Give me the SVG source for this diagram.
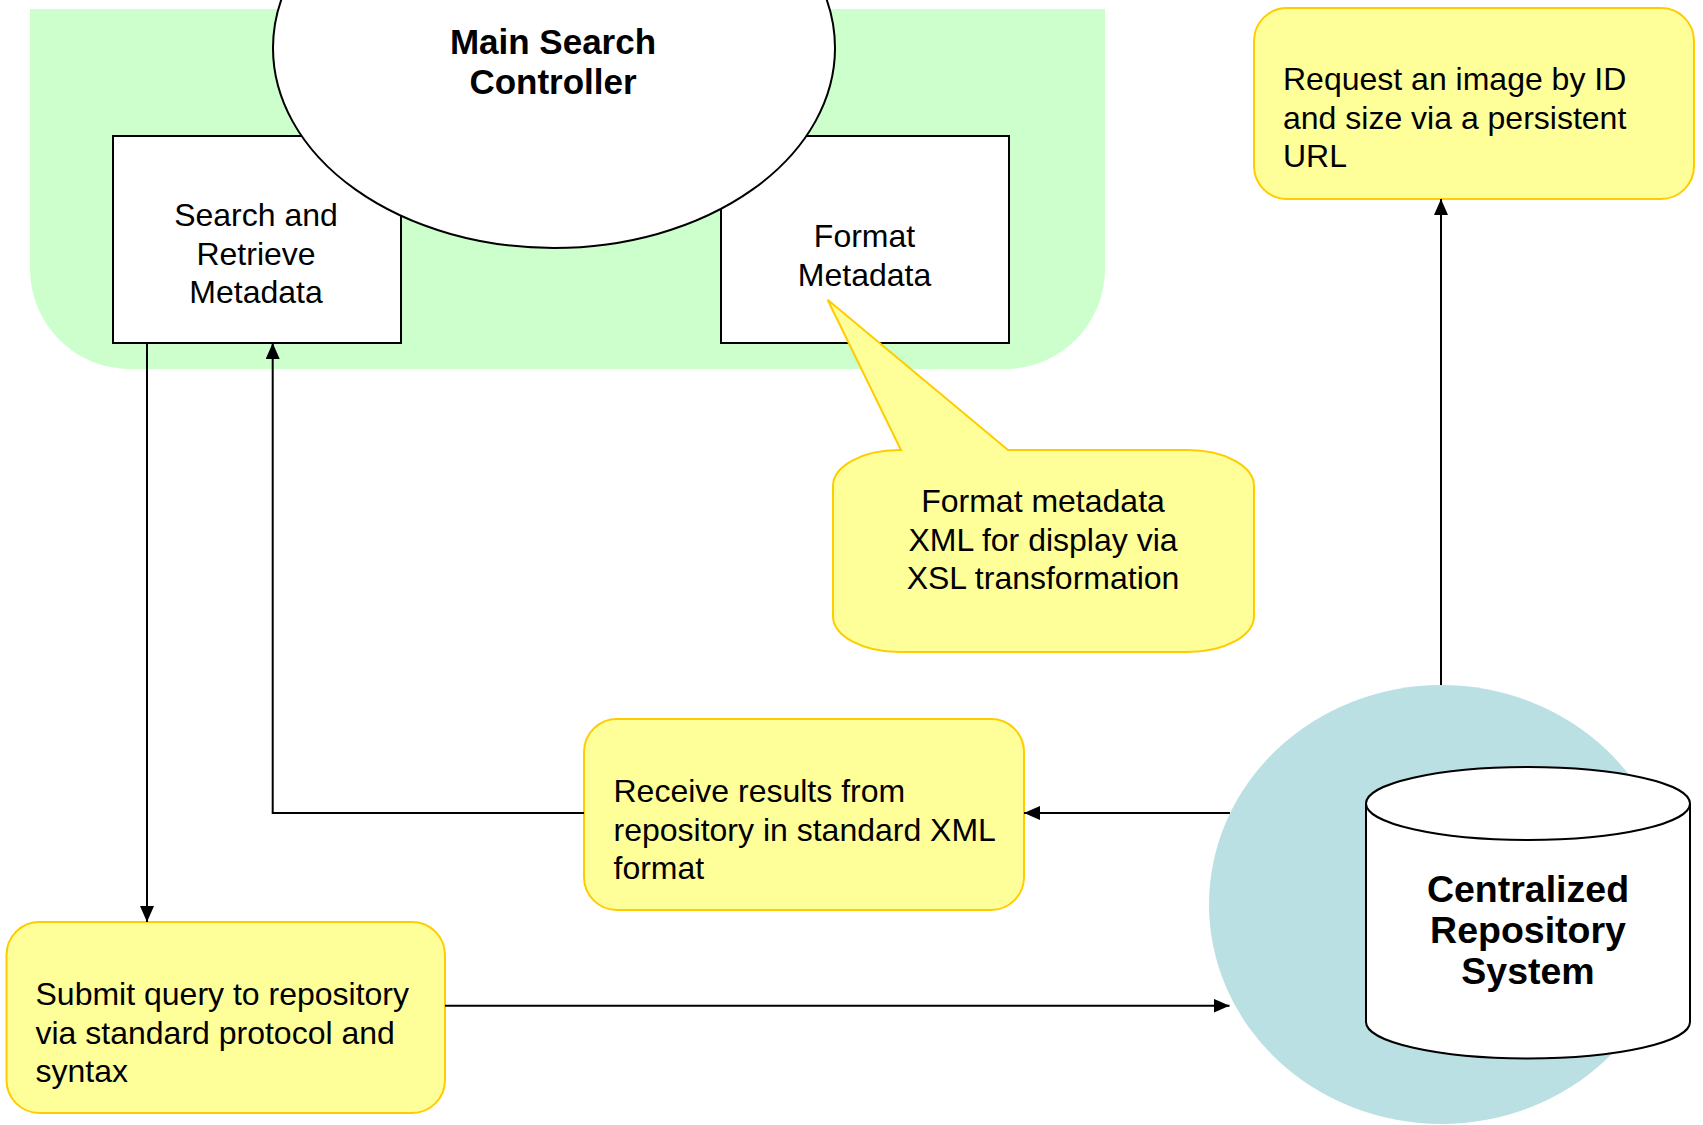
<svg xmlns="http://www.w3.org/2000/svg" width="1703" height="1125" viewBox="0 0 1703 1125">
<defs>
<marker id="arr" markerUnits="userSpaceOnUse" markerWidth="16" markerHeight="14" refX="16" refY="7" orient="auto">
<path d="M0,0 L16,7 L0,14 z" fill="#000"/>
</marker>
<style>
.t{font-family:"Liberation Sans",Arial,sans-serif;font-size:32px;fill:#000}
.c{text-anchor:middle}
.b{font-weight:bold}
.box{fill:#fff;stroke:#000;stroke-width:2}
.note{fill:#FFFF99;stroke:#FFCC00;stroke-width:2}
.con{fill:none;stroke:#000;stroke-width:2;marker-end:url(#arr)}
</style>
</defs>
<rect width="1703" height="1125" fill="#fff"/>
<g id="search-area">
<path d="M30,9 H1105 V269 A100,100 0 0 1 1005,369 H130 A100,100 0 0 1 30,269 Z" fill="#CCFFCC"/>
</g>
<g id="search-retrieve">
<rect class="box" x="113" y="136" width="288" height="207"/>
</g>
<g id="format-metadata">
<rect class="box" x="721" y="136" width="288" height="207"/>
</g>
<g id="main-search-controller">
<ellipse cx="554" cy="48" rx="281" ry="200" fill="#fff" stroke="#000" stroke-width="2"/>
<text class="t c b" style="font-size:35px" x="553" y="53.5">Main Search</text>
<text class="t c b" style="font-size:35px" x="553" y="94">Controller</text>
</g>
<g id="search-retrieve-label">
<text class="t c" x="256" y="226">Search and</text>
<text class="t c" x="256" y="264.5">Retrieve</text>
<text class="t c" x="256" y="303">Metadata</text>
</g>
<g id="format-metadata-label">
<text class="t c" x="864.5" y="247">Format</text>
<text class="t c" x="864.5" y="285.5">Metadata</text>
</g>
<g id="format-callout">
<path class="note" d="M899,450 H901 L827.6,299.8 L1008,450 H1188 A66,36 0 0 1 1254,486 V616 A66,36 0 0 1 1188,652 H899 A66,36 0 0 1 833,616 V486 A66,36 0 0 1 899,450 Z"/>
<text class="t c" x="1043" y="512">Format metadata</text>
<text class="t c" x="1043" y="550.5">XML for display via</text>
<text class="t c" x="1043" y="589">XSL transformation</text>
</g>
<g id="request-image">
<rect class="note" x="1254" y="8" width="440" height="191" rx="33"/>
<text class="t" x="1283" y="90">Request an image by ID</text>
<text class="t" x="1283" y="128.5">and size via a persistent</text>
<text class="t" x="1283" y="167">URL</text>
</g>
<g id="receive-results">
<rect class="note" x="584" y="719" width="440" height="191" rx="33"/>
<text class="t" x="613.5" y="802">Receive results from</text>
<text class="t" x="613.5" y="840.5">repository in standard XML</text>
<text class="t" x="613.5" y="879">format</text>
</g>
<g id="submit-query">
<rect class="note" x="6.5" y="922" width="438.5" height="191" rx="33"/>
<text class="t" x="35.5" y="1005">Submit query to repository</text>
<text class="t" x="35.5" y="1043.5">via standard protocol and</text>
<text class="t" x="35.5" y="1082">syntax</text>
</g>
<g id="connectors">
<path class="con" d="M147,343 V922"/>
<path class="con" d="M584,813 H272.7 V343"/>
<path class="con" d="M1230,813 H1024"/>
<path class="con" d="M445,1005.7 H1229.5"/>
<path class="con" d="M1441,685 V199"/>
</g>
<g id="repository-zone">
<ellipse cx="1441.5" cy="904.5" rx="232.5" ry="219.5" fill="#BBE0E3"/>
</g>
<g id="centralized-repository">
<path d="M1366,803.5 A162,36.5 0 0 1 1690,803.5 V1022 A162,36.5 0 0 1 1366,1022 Z" fill="#fff" stroke="#000" stroke-width="2"/>
<path d="M1366,803.5 A162,36.5 0 0 0 1690,803.5" fill="none" stroke="#000" stroke-width="2"/>
<text class="t c b" style="font-size:37.5px" x="1528" y="902">Centralized</text>
<text class="t c b" style="font-size:37.5px" x="1528" y="943">Repository</text>
<text class="t c b" style="font-size:37.5px" x="1528" y="983.5">System</text>
</g>
</svg>
